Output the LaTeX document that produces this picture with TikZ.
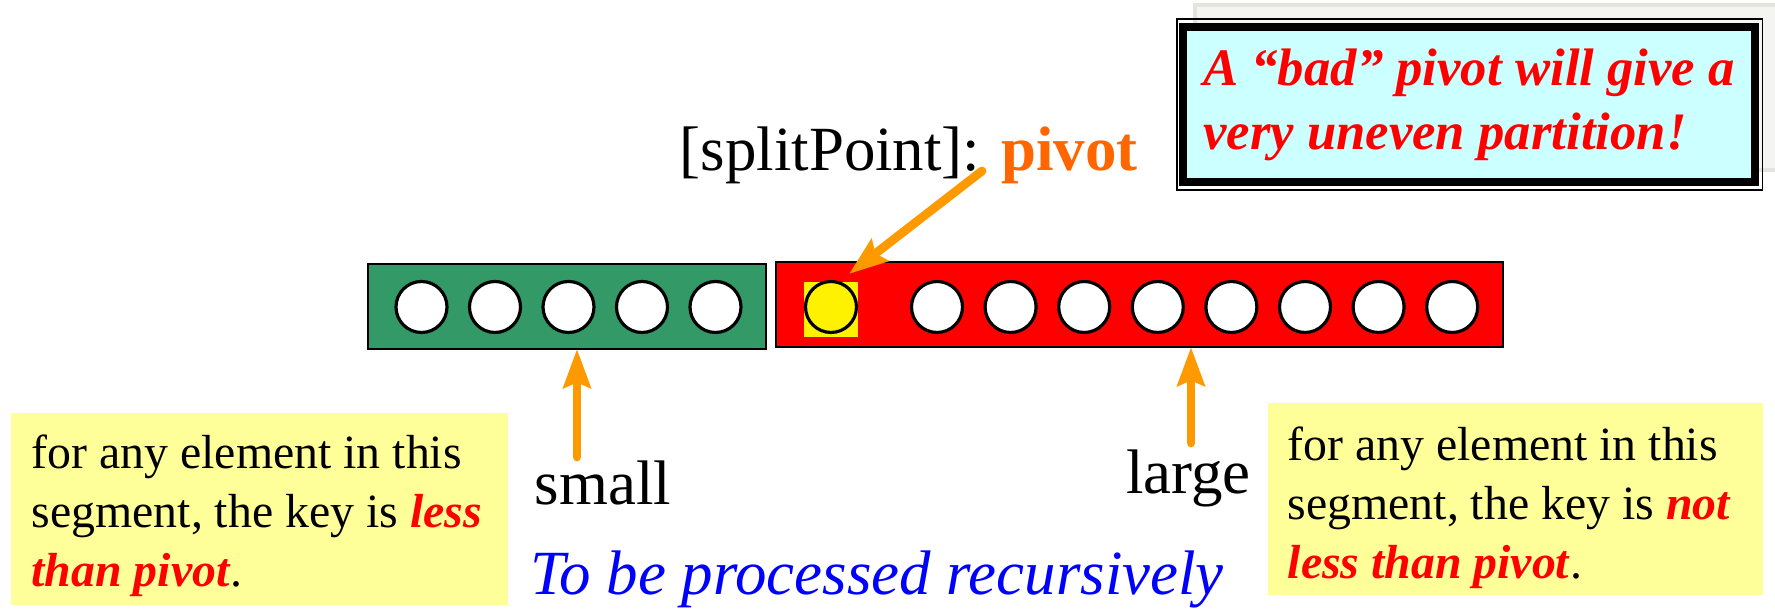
\documentclass[tikz,border=0pt]{standalone}
\usepackage{fontspec}
\setmainfont{Liberation Serif}
\usetikzlibrary{arrows.meta}
\definecolor{barGreen}{HTML}{339966}
\definecolor{noteYellow}{HTML}{FFFF99}
\definecolor{boxCyan}{HTML}{CCFFFF}
\definecolor{ptrOrange}{HTML}{FF9900}
\definecolor{pivOrange}{HTML}{FF6600}
\definecolor{panelFill}{HTML}{F4F4F2}
\definecolor{panelEdge}{HTML}{E4E3DE}
\newcommand{\redbi}[1]{\textcolor{red}{\textbf{\textit{#1}}}}
\tikzset{
  seg/.style={draw=black, line width=0.8pt, minimum height=0.85cm, inner sep=0pt, outer sep=0pt},
  slot/.style={circle, draw=black, line width=0.9pt, fill=white, minimum size=0.51cm, inner sep=0pt},
  big/.style={font=\fontsize{17.9}{21}\selectfont, inner sep=0pt},
  note/.style={fill=noteYellow, inner sep=0pt, minimum height=1.92cm},
  noteText/.style={align=left, inner sep=0pt, anchor=north west, font=\fontsize{13.6}{16.8}\selectfont},
  badbox/.style={draw=black, fill=boxCyan, line width=2.13pt, minimum width=5.72cm, inner sep=0pt, minimum height=1.55cm, align=left, outer sep=0pt, text=red, font=\fontsize{15}{18.2}\selectfont\bfseries\itshape},
  ptr/.style={draw=ptrOrange, line width=2.5pt, line cap=round, -{Stealth[length=11pt, width=7.7pt, inset=1.5pt]}}
}
\begin{document}
\begin{tikzpicture}
      \useasboundingbox (0,0) rectangle (17.75,6.10);

      \draw[draw=panelEdge, fill=panelFill, line width=1.1pt] (11.95,6.05) rectangle (17.85,4.40);
      \node[badbox] (bad) at (14.69,5.055) {A ``bad'' pivot will give a\\very uneven partition!};
      \draw[line width=0.45pt] ([shift={(-0.06,0.08)}]bad.north west) rectangle ([shift={(0.075,-0.08)}]bad.south east);

      \node[big, anchor=base west] (splitLbl) at (6.79,4.39) {[splitPoint]: \textcolor{pivOrange}{\textbf{pivot}}};

      \node[seg, fill=barGreen, minimum width=3.98cm] (smallSeg) at (5.67,3.035) {};
      \node[seg, fill=red, minimum width=7.27cm] (largeSeg) at (11.395,3.055) {};
      \foreach \i in {0,...,4}
        \node[slot] (s\i) at (4.215+0.735*\i,3.03) {};
      \foreach \i in {0,...,7}
        \node[slot] (l\i) at (9.37+0.736*\i,3.03) {};
      \node[fill=yellow, minimum width=0.54cm, minimum height=0.55cm, inner sep=0pt, outer sep=0pt] (pivSq) at (8.31,3.005) {};
      \node[slot, fill=yellow] (piv) at (8.31,3.03) {};

      \coordinate (pivTail) at (9.82,4.39);
      \coordinate (smallTail) at (5.77,1.53);
      \coordinate (largeTail) at (11.91,1.67);
      \draw[ptr] (pivTail) -- ([shift={(-0.09,0.08)}]pivSq.north east);
      \draw[ptr] (smallTail) -- (smallTail |- smallSeg.south);
      \draw[ptr] (largeTail) -- (largeTail |- largeSeg.south);

      \node[big, anchor=base] (smallLbl) at (6.03,1.05) {small};
      \node[big, anchor=base] (largeLbl) at (11.885,1.16) {large};
      \node[big, anchor=base, text=blue] (recLbl) at (8.77,0.15) {\itshape To be processed recursively};

      \node[note, minimum width=4.97cm] (leftNote) at (2.595,1.01) {};
      \node[noteText] (leftText) at (0.31,1.76) {for any element in this\\segment, the key is \redbi{less}\\\redbi{than pivot}.};
      \node[note, minimum width=4.95cm] (rightNote) at (15.155,1.11) {};
      \node[noteText] (rightText) at (12.87,1.84) {for any element in this\\segment, the key is \redbi{not}\\\redbi{less than pivot}.};
\end{tikzpicture}
\end{document}
